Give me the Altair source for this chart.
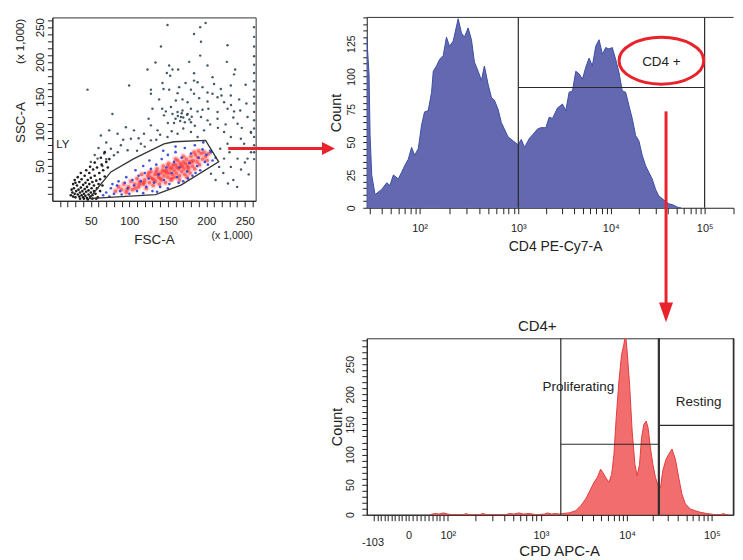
import math
import altair as alt
import pandas as pd

FONT = "Liberation Sans"
INK = "#222222"
RED = "#e8232b"

# ---------------- Panel 1 : FSC-A vs SSC-A dot plot (values x 1,000) ----------------
outer_pts = [
    (149.6, 253), (192, 250), (199, 256), (184, 240), (193, 229), (227.5, 224), (141, 222), (192, 209),
    (177.7, 200), (226.6, 200), (134, 199), (151.7, 194.7), (201.5, 194.7), (123.6, 189), (156, 189),
    (163.4, 189), (237.4, 189), (148.7, 184), (184, 183.6), (153, 180), (236, 182), (208, 178),
    (184, 173), (173, 169.7), (188.6, 170.7), (210, 168), (99.7, 166), (45.7, 160), (143, 169.7),
    (164.7, 163.6), (231.8, 166), (251, 167), (128, 160), (144.4, 161), (151.7, 160), (180, 160),
    (195, 163.6), (218.8, 161), (128, 154), (162.6, 155), (184, 154), (201.5, 156), (208, 154),
    (219.7, 151.6), (231.8, 151.6), (138.7, 146), (160.4, 144.5), (169, 146), (175.6, 142), (190.6, 147.8),
    (201.5, 143), (214.5, 149), (223, 142), (242.6, 146), (130, 132.4), (142.6, 132.4), (147.4, 128.7),
    (154, 134.9), (162.6, 127.7), (169, 130), (180, 132.4), (188.6, 128.7), (195, 131), (202.6, 132.4),
    (214.5, 127.7), (227.5, 132.4), (236, 128.7), (78, 125), (160, 118), (163, 122), (166, 115),
    (170, 120), (172, 113), (175, 124), (178, 117), (181, 121), (168, 126), (158, 112), (145, 123),
    (156, 125), (167, 120.5), (175.6, 125), (180, 113), (193, 120.5), (201.5, 115.8), (214.5, 118),
    (240.5, 111), (253.5, 120.5), (257.8, 99), (223, 99), (231.8, 91.8), (244.8, 89.4), (249, 82),
    (227.5, 82), (238.3, 75), (223, 60.7), (240.5, 60.7), (253.5, 60.7), (216.6, 48.8), (231.8, 48.8),
    (206, 39), (128, 108.6), (136.6, 101.4), (119, 96.6), (106, 101.4), (95.5, 106), (84.7, 96.6),
    (73.8, 101.4), (63, 94), (102, 89.4), (115, 82.2), (89, 80), (76, 75), (97.7, 72.7), (128, 87),
    (162.6, 96.6), (180, 99), (149.6, 91.8), (197, 101.4), (188.6, 91.8), (67.3, 68), (58.7, 60.7),
    (80, 65.6), (50, 56), (222, 40), (235, 30), (245, 45), (255, 38), (228, 25), (212, 30), (240, 20),
    (250, 55), (258, 70), (230, 70), (218, 75), (225, 110), (246, 105), (235, 120), (215, 105),
    (205, 110), (252, 140), (244, 130), (232, 138), (258, 98), (110, 72), (120, 78), (135, 88),
    (140, 95), (155, 100), (170, 104), (185, 108), (150, 112), (125, 118), (112, 90), (92, 88),
    (70, 84), (60, 76), (55, 66), (65, 50), (70, 60), (85, 70),
    (262, 250), (262, 236), (262, 222), (262, 208), (262, 196), (262, 184), (262, 172), (262, 160),
    (262, 150), (262, 140), (262, 128), (262, 116), (262, 104), (262, 92), (262, 80), (262, 70), (262, 60),
]
debris_pts = [
    (24, 8), (26, 12), (27, 6), (28, 18), (29, 10), (30, 5), (31, 14), (32, 22), (33, 9), (34, 16),
    (35, 6), (35, 27), (36, 12), (37, 19), (38, 8), (38, 31), (39, 14), (40, 23), (40, 5), (41, 10),
    (42, 17), (42, 36), (43, 7), (43, 26), (44, 13), (45, 20), (45, 4), (46, 30), (47, 9), (47, 15),
    (48, 24), (48, 40), (49, 6), (50, 12), (50, 33), (51, 18), (52, 27), (52, 8), (53, 45), (54, 14),
    (54, 22), (55, 36), (56, 10), (57, 29), (58, 18), (58, 48), (59, 5), (60, 24), (61, 40), (62, 14),
    (62, 31), (64, 52), (65, 22), (66, 44), (68, 35), (70, 56), (72, 48), (74, 60), (36, 3), (41, 3),
    (46, 2), (52, 3), (57, 3), (30, 26), (33, 34), (44, 44), (49, 49), (27, 24), (25, 16), (29, 30),
    (37, 40), (55, 55), (63, 62), (68, 70),
]
blue_pts = [
    (66, 8), (70, 12), (74, 6), (76, 18), (80, 10), (84, 22), (88, 14), (90, 9), (94, 26), (98, 18),
    (100, 10), (104, 30), (106, 22), (110, 14), (112, 36), (115, 28), (118, 11), (120, 40), (122, 20),
    (125, 32), (128, 46), (130, 14), (132, 26), (135, 52), (138, 38), (140, 20), (142, 60), (145, 30),
    (148, 48), (150, 66), (152, 24), (155, 40), (158, 56), (160, 70), (162, 34), (165, 48), (168, 62),
    (170, 28), (172, 76), (175, 42), (178, 54), (180, 68), (182, 36), (185, 80), (188, 50), (190, 62),
    (192, 44), (195, 74), (198, 56), (200, 66), (202, 52), (205, 72), (208, 58), (196, 84), (186, 40),
    (176, 32), (164, 26), (150, 18), (136, 13), (118, 50), (108, 44), (96, 34), (86, 28), (78, 24),
    (212, 62), (160, 78), (144, 72), (126, 58), (206, 70),
]
red_pts = [
    (82, 14), (86, 20), (90, 16), (93, 24), (96, 12), (99, 20), (102, 28), (104, 16), (107, 24),
    (110, 32), (112, 20), (114, 28), (116, 38), (118, 24), (120, 30), (122, 18), (124, 36), (126, 26),
    (128, 42), (130, 32), (131, 22), (133, 38), (134, 28), (136, 46), (138, 34), (139, 24), (141, 40),
    (142, 30), (144, 50), (145, 36), (147, 26), (148, 44), (150, 34), (151, 54), (152, 40), (154, 30),
    (155, 48), (156, 38), (158, 44), (159, 34), (160, 52), (161, 40), (163, 58), (164, 46), (165, 36),
    (167, 50), (168, 42), (170, 56), (171, 46), (172, 38), (174, 60), (175, 50), (176, 44), (178, 56),
    (179, 40), (180, 64), (182, 50), (183, 58), (185, 46), (186, 66), (188, 56), (189, 62), (191, 52),
    (193, 68), (195, 60), (197, 70), (199, 64), (201, 58), (203, 68), (146, 42), (153, 46), (157, 52),
    (162, 48), (166, 54), (169, 50), (173, 54), (177, 48), (181, 56), (137, 38), (143, 44), (149, 40),
    (127, 34), (132, 30), (140, 32), (119, 26), (113, 24), (108, 18), (97, 16), (125, 40), (135, 42),
    (160, 60), (170, 64), (184, 70), (190, 72), (150, 50), (155, 32), (165, 30), (175, 34),
]
gate_ly_x = [47.8, 76, 106, 145, 158, 199, 216, 167, 134, 63, 47.8]
gate_ly_y = [3.3, 41.6, 60.7, 82, 85, 87, 56, 22.5, 9, 4.3, 3.3]
gate_ly_label = ("LY", 13.6, 80)

# ---------------- Panel 2 : CD4 PE-Cy7-A histogram (display decades) ----------------
cd4_pos = [1.444, 1.468, 1.479, 1.496, 1.531, 1.601, 1.654, 1.688, 1.724, 1.776, 1.811, 1.843, 1.881,
           1.916, 1.948, 1.986, 2.021, 2.052, 2.091, 2.126, 2.144, 2.178, 2.210, 2.249, 2.283, 2.315,
           2.354, 2.406, 2.441, 2.472, 2.511, 2.546, 2.577, 2.616, 2.651, 2.682, 2.721, 2.756, 2.787,
           2.826, 2.860, 2.892, 2.931, 2.983, 3.036, 3.070, 3.105, 3.157, 3.207, 3.241, 3.277, 3.329,
           3.364, 3.399, 3.451, 3.504, 3.539, 3.574, 3.609, 3.644, 3.679, 3.714, 3.749, 3.784, 3.818,
           3.854, 3.889, 3.924, 3.959, 3.993, 4.028, 4.064, 4.099, 4.133, 4.169, 4.203, 4.238, 4.274,
           4.308, 4.343, 4.379, 4.413, 4.448, 4.484, 4.518, 4.570, 4.623, 4.675, 4.710, 4.750]
cd4_count = [130, 102, 55, 25, 10, 14, 19, 17, 25, 22, 27, 32, 37,
             46, 40, 45, 63, 73, 74, 88, 104, 108, 113, 116, 130, 123,
             127, 144, 133, 130, 137, 128, 111, 104, 97, 108, 94, 84, 82,
             75, 65, 60, 54, 51, 48, 52, 46, 53, 57, 60, 61, 61,
             69, 68, 76, 79, 74, 88, 89, 104, 102, 98, 107, 114, 108,
             123, 128, 117, 122, 121, 122, 113, 103, 89, 88, 78, 68, 55,
             51, 40, 32, 27, 22, 14, 9, 6, 3, 2, 0.5, 0]
cd4_gate = ("CD4 +", 3.039, 5.0, 91.6)
cd4_label_pos = (4.545, 111.0)
cd4_decades = {1: 1.0, 2: 2.0, 3: 3.039, 4: 4.012, 5: 5.001, 6: 6.0}

# ---------------- Panel 3 : CPD APC-A histogram of CD4+ (display decades) ----------------
cpd_pos = [1.80, 1.85, 1.90, 1.95, 2.00, 2.05, 2.18, 2.21, 2.24, 2.36, 2.40, 2.44, 2.66, 2.70, 2.75,
           2.81, 2.86, 2.93, 3.00, 3.10, 3.13, 3.18, 3.22, 3.27, 3.302, 3.378, 3.454, 3.511, 3.567,
           3.624, 3.661, 3.699, 3.737, 3.763, 3.794, 3.831, 3.862, 3.888, 3.914, 3.945, 3.975, 4.001,
           4.020, 4.038, 4.066, 4.095, 4.126, 4.152, 4.179, 4.202, 4.228, 4.254, 4.276, 4.303, 4.330,
           4.360, 4.390, 4.417, 4.443, 4.480, 4.511, 4.548, 4.587, 4.624, 4.661, 4.700, 4.756, 4.813,
           4.870, 4.944, 5.040, 5.100, 5.134, 5.160, 5.190]
cpd_count = [0, 2, 1, 3, 1, 0, 0, 2, 0, 0, 2, 0, 0, 2, 1,
             3, 1, 2, 0, 1, 3, 1, 2, 1, 2, 3, 6.6, 15, 26,
             42.5, 53.5, 62, 75.6, 70, 62, 53.5, 67, 100, 161, 222, 266, 283,
             300, 271.5, 216, 139, 84, 64.6, 84, 128, 150, 155.6, 144.5, 111, 84,
             62, 48, 45, 73, 92, 100.5, 109, 92, 62, 34, 18, 9.4, 6.6,
             4, 2, 0, 0, 2, 0, 0]
cpd_gates = [("Proliferating", 3.284, 4.393, 117, 3.484, 212),
             ("Resting", 4.404, 5.245, 148.5, 4.85, 187.6)]
cpd_decades = {2: 2.0, 3: 3.058, 4: 4.038, 5: 5.001, 6: 6.0}
cpd_zero = 1.555

SUP = {2: "10²", 3: "10³", 4: "10⁴", 5: "10⁵"}

one = pd.DataFrame({"k": [0]})


def deco_text(txt, x, y, size, angle=0):
    return alt.Chart(one).mark_text(text=txt, fontSize=size, angle=angle, align="center",
                                    baseline="middle", color=INK, font=FONT).encode(
        x=alt.value(x), y=alt.value(y))


def log_ticks(dec, dmin, dmax, lo, hi):
    out = []
    for d in range(dmin, dmax + 1):
        a, b = dec[d], dec[d + 1]
        for m in range(1, 10):
            t = round(a + (b - a) * math.log10(m), 4)
            if lo <= t <= hi:
                out.append(t)
    return out


def dec_label_expr(dec, extra=""):
    parts = [extra] if extra else []
    for d in (2, 3, 4, 5):
        parts.append("datum.value == %s ? '%s' : " % (repr(round(dec[d], 4)), SUP[d]))
    return "".join(parts) + "''"


# ======== Panel 1 ========
W1, H1 = 204, 184
sx1 = alt.Scale(domain=[0, 264], nice=False, zero=False)
sy1 = alt.Scale(domain=[0, 264], nice=False, zero=False)
ticks1 = list(range(10, 261, 10))
lab50 = "datum.value % 50 == 0 ? datum.label : ''"
ax1x = alt.Axis(values=ticks1, labelExpr=lab50, labelOverlap=False, labelFlush=False,
                tickSize=6, labelPadding=9, labelFontSize=11.5,
                title="FSC-A", titleY=38.7, titleBaseline="middle", titleFontSize=13.5)
ax1y = alt.Axis(values=ticks1, labelExpr=lab50, labelOverlap=False, labelFlush=False,
                labelAngle=270, labelAlign="center", labelBaseline="bottom",
                tickSize=5, labelPadding=2, labelFontSize=11.5,
                title="SSC-A", titleAngle=270, titleX=-31.5, titleY=105,
                titleAlign="center", titleBaseline="middle", titleFontSize=13.5)


def pts_df(pts):
    return pd.DataFrame({"FSC": [p[0] for p in pts], "SSC": [p[1] for p in pts]})


def dots(pts, color, size, opacity):
    return alt.Chart(pts_df(pts)).mark_circle(color=color, size=size, opacity=opacity).encode(
        x=alt.X("FSC:Q", scale=sx1, axis=ax1x),
        y=alt.Y("SSC:Q", scale=sy1, axis=ax1y))


gate_df = pd.DataFrame({"FSC": gate_ly_x, "SSC": gate_ly_y, "i": list(range(len(gate_ly_x)))})
gate_line = alt.Chart(gate_df).mark_line(color="#333333", strokeWidth=1.3).encode(
    x=alt.X("FSC:Q", scale=sx1, axis=ax1x), y=alt.Y("SSC:Q", scale=sy1, axis=ax1y), order="i:Q")
ly_df = pd.DataFrame({"FSC": [gate_ly_label[1]], "SSC": [gate_ly_label[2]], "t": [gate_ly_label[0]]})
ly_text = alt.Chart(ly_df).mark_text(fontSize=11.5, color=INK, font=FONT).encode(
    x=alt.X("FSC:Q", scale=sx1, axis=ax1x), y=alt.Y("SSC:Q", scale=sy1, axis=ax1y), text="t:N")

arrow1_line = alt.Chart(one).mark_rule(color=RED, strokeWidth=3).encode(
    x=alt.value(176.5), x2=alt.value(271), y=alt.value(131.5))
arrow1_head = alt.Chart(one).mark_point(shape="M -1 -1 L 1 0 L -1 1 Z", size=169, filled=True,
                                        color=RED, opacity=1, strokeWidth=0).encode(
    x=alt.value(277), y=alt.value(131.5))

p1 = alt.layer(
    dots(outer_pts, "#2f4753", 6, 0.9),
    dots(debris_pts, "#111111", 7, 0.95),
    dots(red_pts, "#ff5a5a", 45, 0.22),
    dots(red_pts, "#ff2a2a", 14, 0.6),
    dots(blue_pts, "#2b3fd6", 7, 0.9),
    gate_line, ly_text,
    deco_text("(x 1,000)", -31.5, 24, 11.5, 270),
    deco_text("(x 1,000)", 180.5, 219.5, 10.5),
    arrow1_line, arrow1_head,
).properties(width=W1, height=H1, view=alt.ViewBackground(stroke="#333333", strokeWidth=1))

# ======== Panel 2 ========
W2, H2 = 368, 191
x2_lo, x2_hi = 1.444, 5.304
sx2 = alt.Scale(domain=[x2_lo, x2_hi], nice=False, zero=False)
sy2 = alt.Scale(domain=[0, 145], nice=False, zero=False)
ticks2 = log_ticks(cd4_decades, 1, 5, x2_lo, x2_hi)
ax2x = alt.Axis(values=ticks2, labelExpr=dec_label_expr(cd4_decades), labelOverlap=False,
                labelFlush=False, tickSize=6, labelPadding=9, labelFontSize=11,
                title="CD4 PE-Cy7-A", titleX=189, titleY=39.3, titleBaseline="middle",
                titleFontSize=14)
ax2y = alt.Axis(values=list(range(0, 146, 5)), labelExpr="datum.value % 25 == 0 ? datum.label : ''",
                labelOverlap=False, labelFlush=False, labelAngle=270, labelAlign="center",
                labelBaseline="bottom", tickSize=4, labelPadding=6, labelFontSize=10.5,
                title="Count", titleAngle=270, titleX=-30, titleY=95.3, titleAlign="center",
                titleBaseline="middle", titleFontSize=14.5)

h2_df = pd.DataFrame({"pos": cd4_pos, "count": cd4_count})
h2_area = alt.Chart(h2_df).mark_area(fill="#6468b0", stroke="#3a4fa4", strokeWidth=1,
                                     interpolate="linear", clip=True).encode(
    x=alt.X("pos:Q", scale=sx2, axis=ax2x), y=alt.Y("count:Q", scale=sy2, axis=ax2y))

g2_name, g2_lo, g2_hi, g2_lvl = cd4_gate
g2_seg = pd.DataFrame({"x1": [g2_lo, g2_hi, g2_lo], "x2": [g2_lo, g2_hi, g2_hi],
                       "y1": [0, 0, g2_lvl], "y2": [145, 145, g2_lvl]})
g2_rules = alt.Chart(g2_seg).mark_rule(color="#2a2a2a", strokeWidth=1.2).encode(
    x=alt.X("x1:Q", scale=sx2, axis=ax2x), x2="x2:Q",
    y=alt.Y("y1:Q", scale=sy2, axis=ax2y), y2="y2:Q")
top2 = alt.Chart(one).mark_rule(color="#333333", strokeWidth=1).encode(
    x=alt.value(0), x2=alt.value(W2), y=alt.value(0))
lab2_df = pd.DataFrame({"pos": [cd4_label_pos[0]], "count": [cd4_label_pos[1]], "t": [g2_name]})
lab2 = alt.Chart(lab2_df).mark_text(fontSize=13.5, color=INK, font=FONT).encode(
    x=alt.X("pos:Q", scale=sx2, axis=ax2x), y=alt.Y("count:Q", scale=sy2, axis=ax2y), text="t:N")
ellipse_path = ("M 1 0 C 1 0.305 0.5523 0.553 0 0.553 C -0.5523 0.553 -1 0.305 -1 0 "
                "C -1 -0.305 -0.5523 -0.553 0 -0.553 C 0.5523 -0.553 1 -0.305 1 0 Z")
ell_df = pd.DataFrame({"pos": [cd4_label_pos[0]], "count": [112.0]})
ellipse = alt.Chart(ell_df).mark_point(shape=ellipse_path, size=7225, filled=False, color=RED,
                                       strokeWidth=3, opacity=1).encode(
    x=alt.X("pos:Q", scale=sx2, axis=ax2x), y=alt.Y("count:Q", scale=sy2, axis=ax2y))
arrow2_line = alt.Chart(one).mark_rule(color=RED, strokeWidth=3).encode(
    x=alt.value(300.3), y=alt.value(94.3), y2=alt.value(287))
arrow2_head = alt.Chart(one).mark_point(shape="M -0.7 -1 L 0.7 -1 L 0 1 Z", size=400, filled=True,
                                        color=RED, opacity=1, strokeWidth=0).encode(
    x=alt.value(300.3), y=alt.value(296))

p2 = alt.layer(h2_area, g2_rules, top2, lab2, ellipse, arrow2_line, arrow2_head).properties(
    width=W2, height=H2, view=alt.ViewBackground(stroke="transparent"))

# ======== Panel 3 ========
W3, H3 = 368, 177
x3_lo, x3_hi = 1.079, 5.247
sx3 = alt.Scale(domain=[x3_lo, x3_hi], nice=False, zero=False)
sy3 = alt.Scale(domain=[0, 293], nice=False, zero=False)
lin_ticks = [round(cpd_zero + v * (0.00445 if v >= 0 else 0.00396), 4) for v in range(-100, 100, 10)]
ticks3 = sorted(set(lin_ticks + log_ticks(cpd_decades, 2, 5, x3_lo, x3_hi)))
dec3_expr = dec_label_expr(cpd_decades, "datum.value == %s ? '0' : " % repr(cpd_zero))
ax3x = alt.Axis(values=ticks3, labelExpr=dec3_expr, labelOverlap=False, labelFlush=False,
                tickSize=6, labelPadding=9, labelFontSize=11,
                title="CPD APC-A", titleX=193, titleY=35.5, titleBaseline="middle", titleFontSize=15)
ax3y = alt.Axis(values=list(range(0, 291, 10)), labelExpr=lab50, labelOverlap=False,
                labelFlush=False, labelAngle=270, labelAlign="center", labelBaseline="bottom",
                tickSize=5, labelPadding=6, labelFontSize=10.5,
                title="Count", titleAngle=270, titleX=-29, titleY=88.5, titleAlign="center",
                titleBaseline="middle", titleFontSize=14.5)

h3_df = pd.DataFrame({"pos": cpd_pos, "count": cpd_count})
h3_area = alt.Chart(h3_df).mark_area(fill="#f26d6d", stroke="#e23d3d", strokeWidth=1,
                                     interpolate="linear", clip=True).encode(
    x=alt.X("pos:Q", scale=sx3, axis=ax3x), y=alt.Y("count:Q", scale=sy3, axis=ax3y))
seg_rows = []
for name, lo, hi, lvl, tx, ty in cpd_gates:
    seg_rows += [(lo, lo, 0, 293), (hi, hi, 0, 293), (lo, hi, lvl, lvl)]
g3_seg = pd.DataFrame(seg_rows, columns=["x1", "x2", "y1", "y2"])
g3_rules = alt.Chart(g3_seg).mark_rule(color="#2a2a2a", strokeWidth=1.2).encode(
    x=alt.X("x1:Q", scale=sx3, axis=ax3x), x2="x2:Q",
    y=alt.Y("y1:Q", scale=sy3, axis=ax3y), y2="y2:Q")
lab3_df = pd.DataFrame({"pos": [g[4] for g in cpd_gates], "count": [g[5] for g in cpd_gates],
                        "t": [g[0] for g in cpd_gates]})
lab3 = alt.Chart(lab3_df).mark_text(fontSize=13.5, color=INK, font=FONT).encode(
    x=alt.X("pos:Q", scale=sx3, axis=ax3x), y=alt.Y("count:Q", scale=sy3, axis=ax3y),
    text="t:N")

p3 = alt.layer(h3_area, g3_rules, lab3, deco_text("-103", 6.3, 205, 11)).properties(
    width=W3, height=H3, view=alt.ViewBackground(stroke="#333333", strokeWidth=1),
    title=alt.TitleParams("CD4+", fontSize=15, dx=-13, fontWeight="normal", color=INK,
                          font=FONT, offset=4))

spacer = alt.Chart(one).mark_point(opacity=0).properties(
    width=204, height=20, view=alt.ViewBackground(stroke="transparent"))

chart = alt.concat(
    p1, p2, spacer, p3, columns=2, spacing={"row": 131, "column": 111.5},
    bounds="flush", align="none",
).properties(
    padding={"left": 5.5, "top": 6.5, "right": 0, "bottom": 0},
).configure(font=FONT).configure_view(stroke="transparent").configure_axis(
    domainColor=INK, tickColor=INK, labelColor=INK, titleColor=INK, labelFont=FONT,
    titleFont=FONT, grid=False, titleFontWeight="normal")

chart.save("out.html", embed_options={"renderer": "svg", "actions": False})
